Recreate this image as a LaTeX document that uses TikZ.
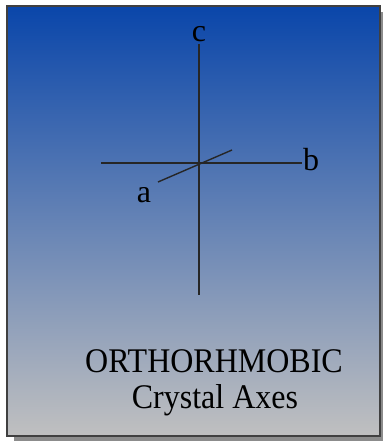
\documentclass[tikz,border=0pt]{standalone}
\usepackage{fontspec}
\setmainfont{Liberation Serif}
\definecolor{topblue}{RGB}{10,70,170}
\definecolor{midblue}{RGB}{130,140,190}
\definecolor{botgray}{RGB}{192,192,192}
\definecolor{shadowgray}{RGB}{140,140,140}
\tikzset{
  axis/.style={line width=1.4pt, draw=black!85},
  lbl/.style={font=\fontsize{32}{36}\selectfont, inner sep=0pt, anchor=base},
}
\begin{document}
\begin{tikzpicture}[x=1pt,y=-1pt]
\useasboundingbox (0,0) rectangle (383,441);
% shadow
\fill[shadowgray] (14,12) rectangle (383,441);
% box
\shade[top color=topblue, middle color=midblue, bottom color=botgray] (7,6) rectangle (380,436);
\draw[line width=2pt, draw=black!75] (7,6) rectangle (380,436);
% axes
\coordinate (o) at (199,163);
\coordinate (ctop) at (199,44);
\coordinate (cbot) at (199,295);
\coordinate (bleft) at (101,163);
\coordinate (bright) at (302,163);
\coordinate (afront) at (158,182);
\coordinate (aback) at (232,150);
\draw[axis] (ctop) -- (cbot);
\draw[axis] (bleft) -- (bright);
\draw[axis] (afront) -- (aback);
\node[lbl] (c) at (199,42) {c};
\node[lbl, anchor=base west] (b) at (303,170) {b};
\node[lbl] (a) at (144,202) {a};
\node[lbl, yscale=1.08] (t1) at (214,372) {ORTHORHMOBIC};
\node[lbl, yscale=1.08] (t2) at (215,408) {Crystal Axes};
\end{tikzpicture}
\end{document}
